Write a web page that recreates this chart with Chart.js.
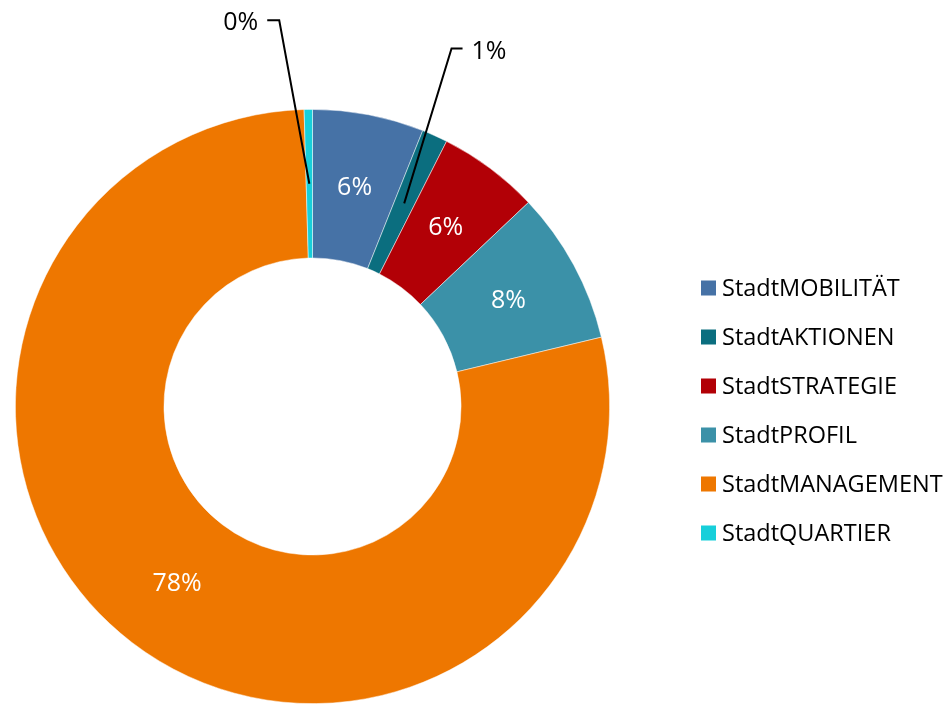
<!DOCTYPE html>
<html>
<head>
<meta charset="utf-8">
<script src="https://cdn.jsdelivr.net/npm/chart.js@4.4.0/dist/chart.umd.min.js"></script>
<style>
  html, body { margin: 0; padding: 0; background: #fff; }
  #wrap { width: 948px; height: 704px; position: relative; }
</style>
</head>
<body>
<div id="wrap"><canvas id="donutChart"></canvas></div>
<script>
// data (percent shares)
var categories = ['StadtMOBILITÄT', 'StadtAKTIONEN', 'StadtSTRATEGIE', 'StadtPROFIL', 'StadtMANAGEMENT', 'StadtQUARTIER'];
var shares = [6.05, 1.4, 5.5, 8.3, 78.3, 0.45];
var pctLabels = ['6%', '1%', '6%', '8%', '78%', '0%'];
var sliceColors = ['#4672A6', '#0B6E7F', '#B20006', '#3B91A8', '#EE7700', '#17CFDA'];

// labels that sit outside the ring with a leader line: elbow position relative to centre, in outer radii
var outsideLabels = {
    1: { ex: 0.468, ey: -1.205, side: 'right' },
    5: { ex: -0.112, ey: -1.3, side: 'left' }
};

var FONT = '"Open Sans", "Noto Sans", sans-serif';

var sliceLabelPlugin = {
    id: 'sliceLabels',
    afterDatasetsDraw: function (chart) {
        var ctx = chart.ctx;
        var arcs = chart.getDatasetMeta(0).data;
        ctx.save();
        ctx.font = '25px ' + FONT;
        ctx.textBaseline = 'middle';
        arcs.forEach(function (arc, i) {
            var p = arc.getProps(['x', 'y', 'startAngle', 'endAngle', 'innerRadius', 'outerRadius']);
            var mid = (p.startAngle + p.endAngle) / 2;
            var r = (p.innerRadius + p.outerRadius) / 2;
            var ax = p.x + Math.cos(mid) * r;
            var ay = p.y + Math.sin(mid) * r;
            var o = outsideLabels[i];
            if (!o) {
                ctx.fillStyle = '#ffffff';
                ctx.textAlign = 'center';
                ctx.fillText(pctLabels[i], ax, ay);
                return;
            }
            var ex = p.x + o.ex * p.outerRadius;
            var ey = p.y + o.ey * p.outerRadius;
            var hx = o.side === 'right' ? ex + 11 : ex - 12;
            ctx.strokeStyle = '#000';
            ctx.lineWidth = 2;
            ctx.beginPath();
            ctx.moveTo(ax, ay);
            ctx.lineTo(ex, ey);
            ctx.lineTo(hx, ey);
            ctx.stroke();
            ctx.fillStyle = '#000';
            if (o.side === 'right') {
                ctx.textAlign = 'left';
                ctx.fillText(pctLabels[i], hx + 9, ey + 3);
            } else {
                ctx.textAlign = 'right';
                ctx.fillText(pctLabels[i], hx - 9, ey + 3);
            }
        });
        ctx.restore();
    }
};

var sideLegendPlugin = {
    id: 'sideLegend',
    afterDraw: function (chart) {
        var ctx = chart.ctx;
        var x0 = 701, y0 = 288, step = 49, box = 15;
        ctx.save();
        ctx.font = '23.5px ' + FONT;
        ctx.textBaseline = 'middle';
        ctx.textAlign = 'left';
        categories.forEach(function (name, i) {
            var y = y0 + i * step;
            ctx.fillStyle = sliceColors[i];
            ctx.fillRect(x0, y - box / 2, box, box);
            ctx.fillStyle = '#000';
            ctx.fillText(name, x0 + box + 6, y + 1);
        });
        ctx.restore();
    }
};

document.addEventListener('DOMContentLoaded', function () {
    var canvas = document.getElementById('donutChart');
    var ctx = canvas.getContext('2d');

    new Chart(ctx, {
        type: 'doughnut',
        data: {
            labels: categories,
            datasets: [{
                data: shares,
                backgroundColor: sliceColors,
                borderColor: 'rgba(255,255,255,0.6)',
                borderWidth: 0.8
            }]
        },
        options: {
            responsive: true,
            maintainAspectRatio: false,
            animation: false,
            cutout: '50%',
            layout: {
                padding: { left: 14, top: 109, right: 337, bottom: 0 }
            },
            plugins: {
                legend: { display: false },
                tooltip: { enabled: false }
            }
        },
        plugins: [sliceLabelPlugin, sideLegendPlugin]
    });
});
</script>
</body>
</html>
